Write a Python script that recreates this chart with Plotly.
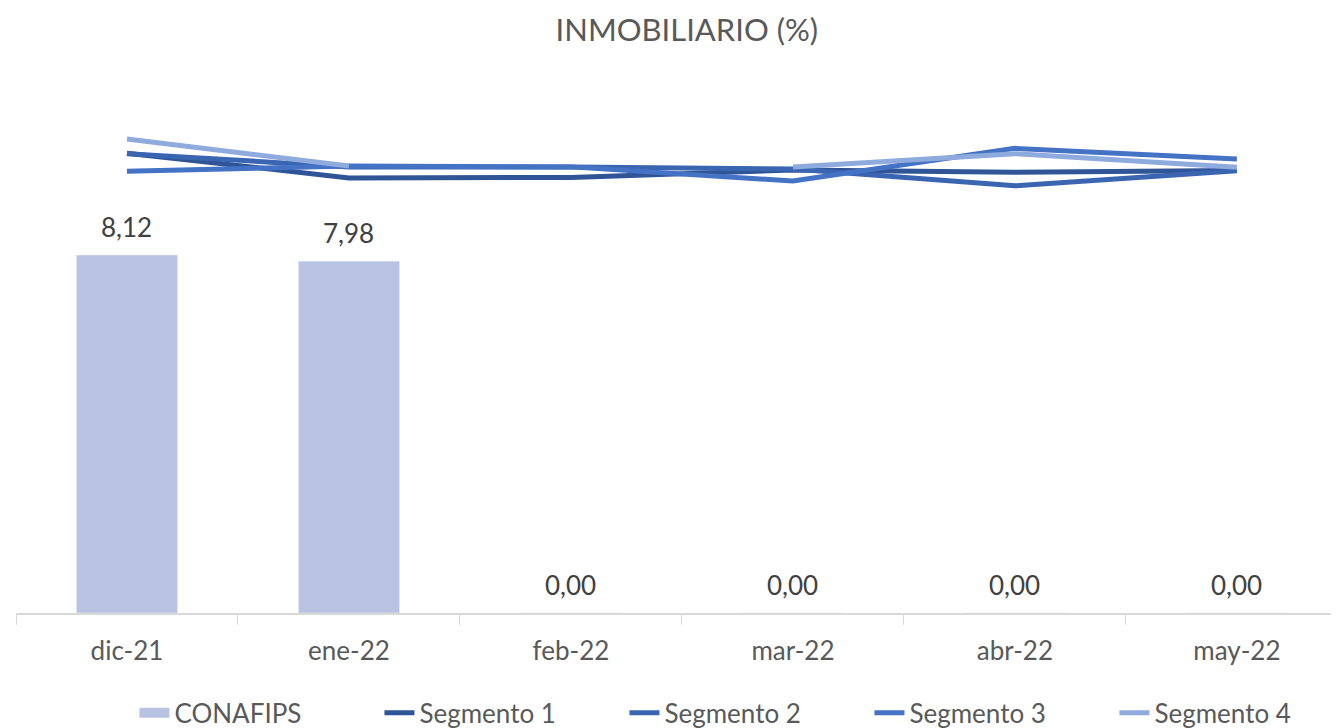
import plotly.graph_objects as go

months = ["dic-21", "ene-22", "feb-22", "mar-22", "abr-22", "may-22"]
conafips = [8.12, 7.98, 0.00, 0.00, 0.00, 0.00]
segmento_1 = [10.43, 9.87, 9.88, 10.05, 10.00, 10.04]
segmento_2 = [10.42, 10.12, 10.12, 10.07, 9.69, 10.03]
segmento_3 = [10.02, 10.14, 10.12, 9.80, 10.54, 10.30]
segmento_4 = [10.75, 10.14, None, 10.12, 10.42, 10.11]

font = "Lato, 'Open Sans', sans-serif"
grey = "#595959"
bar_color = "#B8C3E3"

fig = go.Figure()
fig.add_trace(go.Bar(
    x=months, y=conafips, name="CONAFIPS", marker_color=bar_color,
    width=0.455, showlegend=False,
))
# wide swatch for the bar series in the legend
fig.add_trace(go.Scatter(x=[None], y=[None], name="CONAFIPS", mode="lines",
                         line=dict(color=bar_color, width=20)))
for name, vals, color in [
    ("Segmento 1", segmento_1, "#2F5597"),
    ("Segmento 2", segmento_2, "#3A65B0"),
    ("Segmento 3", segmento_3, "#4472C4"),
    ("Segmento 4", segmento_4, "#8FAADC"),
]:
    fig.add_trace(go.Scatter(x=months, y=vals, name=name, mode="lines",
                             line=dict(color=color, width=5)))

# bar value labels
for m, v in zip(months, conafips):
    fig.add_annotation(x=m, y=v, text=f"{v:.2f}".replace(".", ","),
                       showarrow=False, yanchor="bottom", yshift=10,
                       font=dict(size=26, color="#404040"))

# page body has an 8px margin, so the figure is offset by 8px
fig.update_layout(
    width=1331, height=720,
    paper_bgcolor="white", plot_bgcolor="white",
    margin=dict(l=8, r=0, t=76, b=115, autoexpand=False),
    font=dict(family=font, color=grey, size=26),
    title=dict(text="INMOBILIARIO (%)", x=0.51, xanchor="center",
               yref="container", y=0.969, yanchor="middle",
               font=dict(size=31, color=grey)),
    xaxis=dict(type="category", range=[-0.5, 5.46], showline=True,
               linecolor="#D9D9D9", linewidth=1.5, ticks="outside",
               tickson="boundaries", tickcolor="#D9D9D9", ticklen=10,
               ticklabelstandoff=14,
               tickfont=dict(size=26, color=grey), showgrid=False,
               automargin=False),
    yaxis=dict(range=[0, 12], visible=False, showgrid=False, automargin=False),
    legend=dict(orientation="h", xref="container", x=0.095, xanchor="left",
                yref="container", y=0.021, yanchor="middle",
                font=dict(size=26, color=grey), entrywidth=200,
                traceorder="normal"),
)

fig.write_html("out.html")
